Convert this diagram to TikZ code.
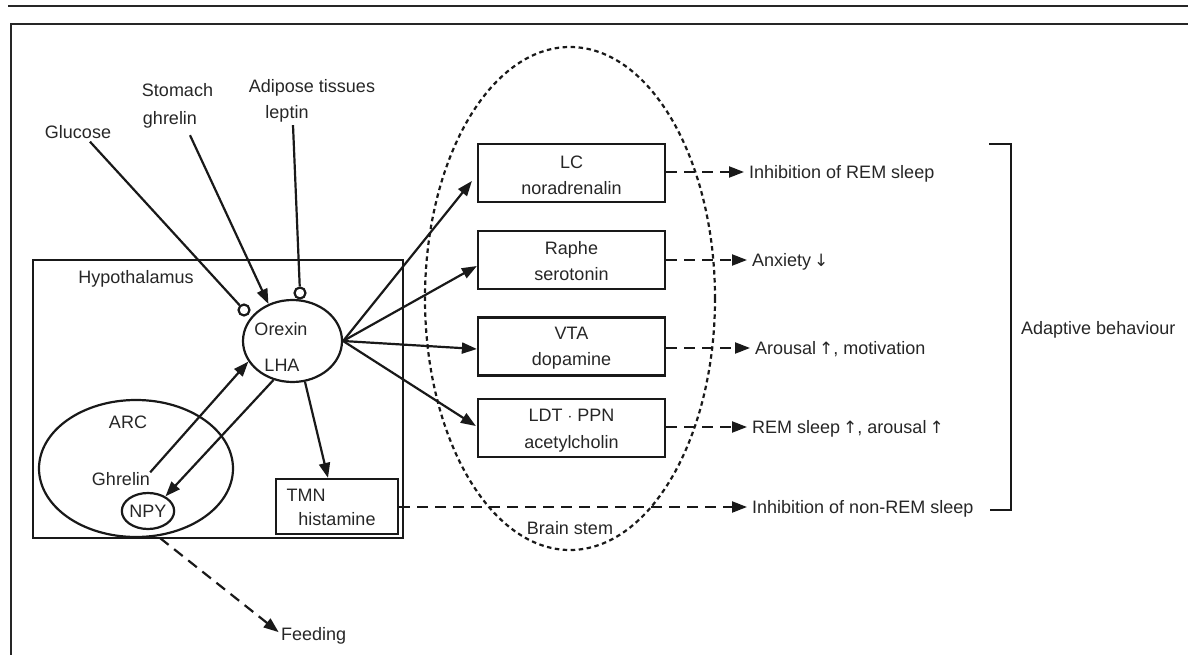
\documentclass[tikz,border=0pt]{standalone}
\usepackage{fontspec}
\setmainfont{Liberation Sans}
\newfontfamily\arrfont{DejaVu Sans}
\newcommand{\myup}{{\arrfont\fontsize{17}{20}\selectfont ↑}}
\newcommand{\mydown}{{\arrfont\fontsize{17}{20}\selectfont ↓}}
\usetikzlibrary{arrows.meta,shapes.geometric}
\tikzset{
  ln/.style={line width=2.2pt, draw=black!90},
  txt/.style={inner sep=0pt, text height=13pt, text depth=0pt, font=\fontsize{18}{21}\selectfont, text=black!85},
  outl/.style={txt, anchor=west, inner xsep=5pt},
  boxn/.style={ln, rectangle, minimum width=187pt, minimum height=58pt, inner sep=0pt},
  ell/.style={ln, ellipse, inner sep=0pt},
  endc/.style={ln, circle, minimum size=11pt, inner sep=0pt, fill=white},
  arr/.style={ln, -{Triangle[length=15pt,width=11pt]}},
  darr/.style={ln, dash pattern=on 11pt off 7pt, -{Triangle[length=15pt,width=11pt]}},
  plain/.style={ln}
}
\begin{document}
\begin{tikzpicture}[x=1pt,y=-1pt]
\useasboundingbox (0,0) rectangle (1188,655);
% frame
\draw[line width=2.6pt, draw=black!85] (8,6) -- (1188,6);
\draw[line width=2.6pt, draw=black!85] (1188,24) -- (11,24) -- (11,655);

% brain stem
\node[ln, ellipse, dash pattern=on 4.5pt off 3.5pt, minimum width=290pt, minimum height=503pt, inner sep=0pt] (bs) at (570,298.5) {};
\node[txt] (bslbl) at (570,528) {Brain stem};

% hypothalamus
\node[ln, rectangle, minimum width=370pt, minimum height=278pt, inner sep=0pt] (hyp) at (218,399) {};
\node[txt] (hyplbl) at (136,277) {Hypothalamus};

% orexin
\node[ell, minimum width=99pt, minimum height=82pt] (orx) at (292.5,341) {};
\node[txt] (orxa) at (281,329) {Orexin};
\node[txt] (orxb) at (282,365) {LHA};

% ARC, NPY
\node[ell, minimum width=194pt, minimum height=137pt] (arc) at (136,468.5) {};
\node[txt] (arclbl) at (128,422) {ARC};
\node[txt] (ghl) at (121,479) {Ghrelin};
\node[ell, txt, draw, line width=2.2pt, minimum width=52pt, minimum height=36pt, fill=white] (npy) at (148,511) {NPY};

% TMN
\node[ln, rectangle, minimum width=122pt, minimum height=55pt, inner sep=0pt] (tmn) at (337,506.5) {};
\node[txt] (tmna) at (306,495) {TMN};
\node[txt] (tmnb) at (337,519) {histamine};

% inputs
\node[txt] (glu) at (78,132) {Glucose};
\node[txt] (sto) at (177.5,90) {Stomach};
\node[txt] (gh) at (170,118) {ghrelin};
\node[txt] (adi) at (312,86) {Adipose tissues};
\node[txt] (lep) at (287,112) {leptin};
\node[endc] (c1) at (244,310) {};
\node[endc] (c3) at (300,293) {};

\draw[plain] ([shift={(12,3)}]glu.south) -- (c1);
\draw[arr] ([shift={(20,10.5)}]gh.south) -- (orx.123);
\draw[plain] ([shift={(6,6.5)}]lep.south) -- (c3);

\draw[arr] (ghl.north east) -- (orx.205);
\draw[arr] (orx.244) -- (npy.40);
\draw[arr] (orx.287) -- ([xshift=-9pt]tmn.north);

% brain stem boxes
\node[boxn] (lc) at (571.5,173) {};
\node[txt] (lca) at (571.5,162) {LC};
\node[txt] (lcb) at (571.5,188) {noradrenalin};
\node[boxn] (rap) at (571.5,260) {};
\node[txt] (rapa) at (571.5,248) {Raphe};
\node[txt] (rapb) at (571.5,274) {serotonin};
\node[boxn] (vta) at (571.5,346.5) {};
\node[txt] (vtaa) at (571.5,333) {VTA};
\node[txt] (vtab) at (571.5,359) {dopamine};
\node[boxn] (ldt) at (571.5,428) {};
\node[txt] (ldta) at (571.5,415) {LDT $\cdot$ PPN};
\node[txt] (ldtb) at (571.5,442) {acetylcholin};

\draw[arr] (orx.east) -- ([shift={(-5,8)}]lc.west);
\draw[arr] (orx.east) -- ([shift={(0,6)}]rap.west);
\draw[arr] (orx.east) -- ([shift={(0,2.5)}]vta.west);
\draw[arr] (orx.east) -- ([shift={(-1,-2)}]ldt.west);

% outputs
\node[outl] (o1) at (744,172) {Inhibition of REM sleep};
\node[outl] (o2) at (747,260) {Anxiety\,\mydown};
\node[outl] (o3) at (750,348) {Arousal\,\myup, motivation};
\node[outl] (o4) at (747,427) {REM sleep\,\myup, arousal\,\myup};
\node[outl] (o5) at (747,507) {Inhibition of non-REM sleep};

\draw[darr] (o1.west -| lc.east) -- (o1.west);
\draw[darr] (o2.west -| rap.east) -- (o2.west);
\draw[darr] (o3.west -| vta.east) -- (o3.west);
\draw[darr] (o4.west -| ldt.east) -- (o4.west);
\draw[darr] (o5.west -| tmn.east) -- (o5.west);

% feeding
\coordinate (fs) at (160,538);
\node[txt, anchor=west] (feed) at (281,634) {Feeding};
\draw[darr, shorten >=3pt] (fs) -- (feed.west);

% bracket
\draw[ln] (989,144) -- (1011,144) -- (1011,510) -- (990,510);
\node[txt, anchor=west] (adapt) at (1021,328) {Adaptive behaviour};
\end{tikzpicture}
\end{document}
